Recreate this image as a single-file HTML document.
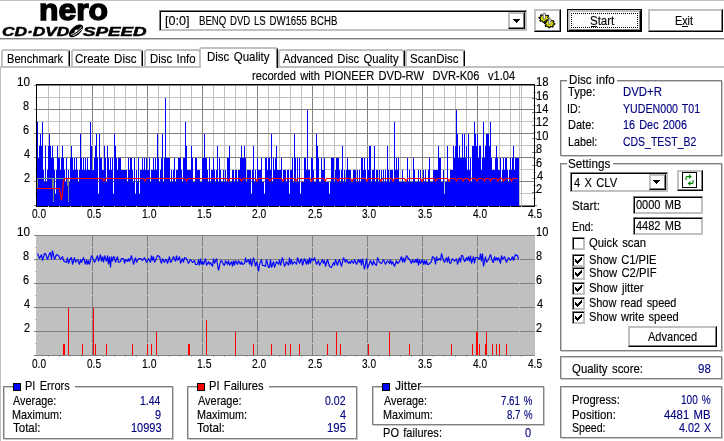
<!DOCTYPE html>
<html lang="en">
<head>
<meta charset="utf-8">
<title>Nero CD-DVD Speed</title>
<style>
html,body{margin:0;padding:0;background:#fff}
body{width:724px;height:441px;position:relative;overflow:hidden;font-family:"Liberation Sans",sans-serif;font-size:13px;line-height:13px;color:#000}
body>div,body>span,body>svg{position:absolute}
.abs{position:absolute}
.t{z-index:5;-webkit-text-stroke:.15px currentColor;word-spacing:1.4px;white-space:pre;transform-origin:0 0;display:block;line-height:13px;font-size:13px}
.btn{box-sizing:border-box;background:#fff;border:1px solid;border-color:#c0c0c0 #000 #000 #c0c0c0;box-shadow:inset -1px -1px 0 #808080,inset 1px 1px 0 #c0c0c0}
.sunk{box-sizing:border-box;background:#fff;border:1px solid;border-color:#808080 #c0c0c0 #c0c0c0 #808080;box-shadow:inset 1px 1px 0 #000,inset -1px -1px 0 #c0c0c0}
.grp{box-sizing:border-box;border:1px solid #808080;box-shadow:1px 1px 0 #c8c8c8,inset 1px 1px 0 #c8c8c8}
.chk{box-sizing:border-box;width:13px;height:13px;background:#fff;border:1px solid;border-color:#808080 #c0c0c0 #c0c0c0 #808080;box-shadow:inset 1px 1px 0 #000,inset -1px -1px 0 #c0c0c0}
.focus{box-sizing:content-box;border:1px dotted #000}
.tab{box-sizing:border-box;background:#fff;border-style:solid;border-width:2px 1px 0 2px;border-color:#c0c0c0 #000 transparent #c0c0c0;border-radius:3px 3px 0 0;box-shadow:inset -1px 0 0 #808080}
.tab.sel{z-index:2}
.nero{left:39.4px;top:-7.6px;font:bold 28.6px/36px "Liberation Sans",sans-serif;letter-spacing:0;-webkit-text-stroke:1.35px #000;transform:scaleX(1.115);transform-origin:0 0}
.cds{left:2px;top:24.5px;font:italic bold 12.5px/14px "Liberation Sans",sans-serif;white-space:pre;-webkit-text-stroke:.5px #000}
.cds span{display:inline-block;transform-origin:0 0;position:absolute;top:0}
.cds .c1{left:-.5px;transform:scaleX(1.385)}
.cds .c2{left:81.3px;transform:scaleX(1.5)}
</style>
</head>
<body>
<div style="left:0px;top:0px;width:724px;height:1px;background:#c0c0c0;"></div>
<div style="left:0px;top:38px;width:724px;height:1px;background:#808080;"></div>
<div style="left:0px;top:39px;width:724px;height:1px;background:#c8c8c8;"></div>
<div class="nero">nero</div>
<div class="cds"><span class="c1">CD·DVD</span><span class="c2">SPEED</span></div>
<svg class="abs" style="left:67px;top:23px" width="18" height="16" viewBox="0 0 18 16"><ellipse cx="9" cy="7.8" rx="4.4" ry="8.4" transform="rotate(50 9 7.8)" fill="#000"/><path d="M4 11.6C7 10.6 11.5 7.2 14.6 4.2M5.6 12.8C9 11.2 12.6 8.6 15.4 5.8" stroke="#fff" stroke-width=".9" fill="none"/><ellipse cx="9" cy="7.8" rx="1.1" ry="1.6" transform="rotate(50 9 7.8)" fill="#fff"/></svg>
<div class="sunk" style="left:159px;top:10px;width:368px;height:21px"></div>
<div class="btn" style="left:508px;top:12px;width:17px;height:17px"></div>
<svg class="abs" style="left:513px;top:19px" width="7" height="4" viewBox="0 0 7 4" shape-rendering="crispEdges"><path d="M0 0h7L3.5 4z" fill="#000"/></svg>
<span class="t" style="left:165.11px;top:14px;transform:scaleX(0.9700);color:#000">[0:0]</span>
<span class="t" style="left:198.62px;top:14px;transform:scaleX(0.7400);color:#000">BENQ DVD LS DW1655 BCHB</span>
<div class="btn" style="left:534px;top:9px;width:27px;height:23px"></div>
<svg class="abs" style="left:536px;top:9.5px" width="22" height="21" viewBox="536 9 22 21"><path d="M549.4 17.3L549.3 18.2L547.7 18.5L547.3 19.0L547.9 20.3L547.0 20.8L545.6 20.1L544.8 20.3L544.2 21.5L543.1 21.4L542.8 20.1L542.0 19.8L540.5 20.3L539.8 19.6L540.7 18.5L540.5 17.8L539.0 17.3L539.1 16.4L540.7 16.1L541.1 15.6L540.5 14.3L541.4 13.8L542.8 14.5L543.6 14.3L544.2 13.1L545.3 13.2L545.6 14.5L546.4 14.8L547.9 14.3L548.6 15.0L547.7 16.1L547.9 16.8z" fill="#ffff00" stroke="#000" stroke-width="1.1" stroke-linejoin="round"/><ellipse cx="544.2" cy="17.6" rx="2.2" ry="1.5" fill="#c8c800"/><path d="M542.9000000000001 17.900000000000002V12.700000000000001L544.0 11.5L545.4000000000001 12.700000000000001V17.900000000000002z" fill="#b0b0b0" stroke="#505050" stroke-width=".5"/><path d="M544.5 13.100000000000001V17.6" stroke="#fff" stroke-width=".8"/><path d="M554.8 22.6L554.7 23.5L553.1 23.8L552.7 24.3L553.3 25.6L552.4 26.1L551.0 25.4L550.2 25.6L549.6 26.8L548.5 26.7L548.2 25.4L547.4 25.1L545.9 25.6L545.2 24.9L546.1 23.8L545.9 23.1L544.4 22.6L544.5 21.7L546.1 21.4L546.5 20.9L545.9 19.6L546.8 19.1L548.2 19.8L549.0 19.6L549.6 18.4L550.7 18.5L551.0 19.8L551.8 20.1L553.3 19.6L554.0 20.3L553.1 21.4L553.3 22.1z" fill="#ffff00" stroke="#000" stroke-width="1.1" stroke-linejoin="round"/><ellipse cx="549.6" cy="22.900000000000002" rx="2.2" ry="1.5" fill="#c8c800"/><path d="M548.3000000000001 23.200000000000003V18.0L549.4 16.8L550.8000000000001 18.0V23.200000000000003z" fill="#b0b0b0" stroke="#505050" stroke-width=".5"/><path d="M549.9 18.400000000000002V22.900000000000002" stroke="#fff" stroke-width=".8"/></svg>
<div style="left:567px;top:9px;width:75px;height:23px;background:#000;"></div>
<div class="btn" style="left:568px;top:10px;width:73px;height:21px"></div>
<div class="focus" style="left:571px;top:13px;width:65px;height:13px"></div>
<span class="t" style="left:590.11px;top:14px;transform:scaleX(0.8841);color:#000">Start</span>
<div style="left:591px;top:26px;width:6px;height:1px;background:#000;"></div>
<div class="btn" style="left:648px;top:9px;width:75px;height:23px"></div>
<span class="t" style="left:675.12px;top:14px;transform:scaleX(0.8321);color:#000">Exit</span>
<div style="left:682px;top:26px;width:6px;height:1px;background:#000;"></div>
<div style="left:0px;top:66px;width:724px;height:2px;background:#c0c0c0;"></div>
<div style="left:0px;top:66px;width:1px;height:375px;background:#c0c0c0;"></div>
<div class="tab" style="left:1px;top:49px;width:69px;height:17px"></div>
<span class="t" style="left:6.61px;top:52px;transform:scaleX(0.8524);color:#000">Benchmark</span>
<div class="tab" style="left:71px;top:49px;width:72px;height:17px"></div>
<span class="t" style="left:74.63px;top:52px;transform:scaleX(0.8880);color:#000">Create Disc</span>
<div class="tab" style="left:144px;top:49px;width:57px;height:17px"></div>
<span class="t" style="left:149.62px;top:52px;transform:scaleX(0.8760);color:#000">Disc Info</span>
<div class="tab" style="left:278px;top:49px;width:127px;height:17px"></div>
<span class="t" style="left:283.10px;top:52px;transform:scaleX(0.8650);color:#000">Advanced Disc Quality</span>
<div class="tab" style="left:405px;top:49px;width:60px;height:17px"></div>
<span class="t" style="left:410.11px;top:52px;transform:scaleX(0.8838);color:#000">ScanDisc</span>
<div class="tab sel" style="left:199px;top:47px;width:79px;height:21px"></div>
<span class="t" style="left:206.88px;top:50px;transform:scaleX(0.8839);color:#000">Disc Quality</span>
<span class="t" style="left:252.13px;top:69px;transform:scaleX(0.8546);color:#000">recorded with PIONEER DVD-RW  DVR-K06  v1.04</span>
<svg class="abs" style="left:0px;top:68px" width="560" height="305" viewBox="0 68 560 305" font-family="Liberation Sans, sans-serif" font-size="13">
<g shape-rendering="crispEdges">
<path d="M48.5 85V206M59.5 85V206M70.5 85V206M81.5 85V206M103.5 85V206M114.5 85V206M125.5 85V206M136.5 85V206M158.5 85V206M169.5 85V206M180.5 85V206M191.5 85V206M213.5 85V206M224.5 85V206M235.5 85V206M246.5 85V206M268.5 85V206M279.5 85V206M290.5 85V206M301.5 85V206M323.5 85V206M334.5 85V206M345.5 85V206M356.5 85V206M378.5 85V206M389.5 85V206M400.5 85V206M411.5 85V206M433.5 85V206M444.5 85V206M455.5 85V206M466.5 85V206M488.5 85V206M499.5 85V206M510.5 85V206M521.5 85V206M519.5 85V206" stroke="#c0c0c0" fill="none"/>
<path d="M92.5 85V206M147.5 85V206M202.5 85V206M257.5 85V206M312.5 85V206M367.5 85V206M422.5 85V206M477.5 85V206" stroke="#808080" fill="none"/>
<path d="M35 193.5H534M35 169.5H534M35 145.5H534M35 121.5H534M35 97.5H534" stroke="#c0c0c0" fill="none"/>
<path d="M34 205.5H534M34 181.5H534M34 157.5H534M34 133.5H534M34 109.5H534M34 85.5H534" stroke="#808080" fill="none"/>
<path d="M37 122h1V206H37zM38 158h1V206H38zM39 146h1V206H39zM40 134h1V206H40zM41 146h1V206H41zM42 122h1V206H42zM43 170h1V206H43zM44 182h1V206H44zM45 146h1V206H45zM46 182h1V206H46zM47 170h1V206H47zM48 146h1V206H48zM49 134h1V206H49zM50 146h1V206H50zM51 158h1V206H51zM52 146h1V206H52zM53 158h1V206H53zM54 170h1V206H54zM55 194h1V206H55zM56 170h1V206H56zM57 146h1V206H57zM58 158h2V206H58zM60 170h1V206H60zM61 158h1V206H61zM62 146h1V206H62zM63 158h1V206H63zM64 170h1V206H64zM65 182h1V206H65zM66 158h1V206H66zM67 182h1V206H67zM68 170h1V206H68zM69 182h1V206H69zM70 158h1V206H70zM71 146h1V206H71zM72 158h1V206H72zM73 170h1V206H73zM74 158h1V206H74zM75 170h1V206H75zM76 158h1V206H76zM77 170h1V206H77zM78 182h1V206H78zM79 170h1V206H79zM80 134h1V206H80zM81 158h1V206H81zM82 170h1V206H82zM83 158h1V206H83zM84 170h1V206H84zM85 158h1V206H85zM86 170h1V206H86zM87 158h1V206H87zM88 170h2V206H88zM90 122h1V206H90zM91 146h1V206H91zM92 170h2V206H92zM94 158h1V206H94zM95 146h1V206H95zM96 134h1V206H96zM97 158h1V206H97zM98 194h1V206H98zM99 134h1V206H99zM100 158h2V206H100zM102 170h2V206H102zM104 146h1V206H104zM105 158h1V206H105zM106 182h1V206H106zM107 146h1V206H107zM108 158h1V206H108zM109 170h1V206H109zM110 158h1V206H110zM111 170h1V206H111zM112 158h1V206H112zM113 194h1V206H113zM114 134h1V206H114zM115 146h1V206H115zM116 158h1V206H116zM117 170h1V206H117zM118 158h3V206H118zM121 170h6V206H121zM127 182h1V206H127zM128 158h1V206H128zM129 170h1V206H129zM130 158h2V206H130zM132 170h1V206H132zM133 182h1V206H133zM134 158h1V206H134zM135 194h1V206H135zM136 170h1V206H136zM137 182h1V206H137zM138 158h1V206H138zM139 194h1V206H139zM140 170h2V206H140zM142 158h1V206H142zM143 170h1V206H143zM144 158h1V206H144zM145 170h1V206H145zM146 158h1V206H146zM147 170h2V206H147zM149 158h1V206H149zM150 182h1V206H150zM151 170h2V206H151zM153 158h1V206H153zM154 170h1V206H154zM155 158h1V206H155zM156 170h1V206H156zM157 134h1V206H157zM158 158h1V206H158zM159 182h1V206H159zM160 170h1V206H160zM161 158h1V206H161zM162 134h1V206H162zM163 182h1V206H163zM164 158h1V206H164zM165 98h1V206H165zM166 158h4V206H166zM170 182h1V206H170zM171 170h1V206H171zM172 182h1V206H172zM173 170h1V206H173zM174 158h1V206H174zM175 182h1V206H175zM176 170h2V206H176zM178 158h3V206H178zM181 170h1V206H181zM182 182h1V206H182zM183 158h2V206H183zM185 122h1V206H185zM186 146h1V206H186zM187 170h4V206H187zM191 146h1V206H191zM192 158h1V206H192zM193 182h2V206H193zM195 158h2V206H195zM197 170h3V206H197zM200 182h2V206H200zM202 158h2V206H202zM204 134h1V206H204zM205 158h2V206H205zM207 170h1V206H207zM208 182h1V206H208zM209 158h1V206H209zM210 182h1V206H210zM211 170h2V206H211zM213 158h1V206H213zM214 170h1V206H214zM215 182h1V206H215zM216 170h1V206H216zM217 146h1V206H217zM218 182h1V206H218zM219 158h1V206H219zM220 170h1V206H220zM221 182h2V206H221zM223 170h1V206H223zM224 182h1V206H224zM225 170h1V206H225zM226 182h1V206H226zM227 158h2V206H227zM229 146h1V206H229zM230 182h2V206H230zM232 170h2V206H232zM234 182h1V206H234zM235 170h2V206H235zM237 182h1V206H237zM238 170h2V206H238zM240 158h1V206H240zM241 146h1V206H241zM242 158h2V206H242zM244 146h1V206H244zM245 158h1V206H245zM246 182h1V206H246zM247 170h4V206H247zM251 194h1V206H251zM252 170h1V206H252zM253 146h1V206H253zM254 182h1V206H254zM255 170h1V206H255zM256 182h1V206H256zM257 158h1V206H257zM258 170h3V206H258zM261 158h1V206H261zM262 182h2V206H262zM264 194h1V206H264zM265 158h2V206H265zM267 170h1V206H267zM268 158h2V206H268zM270 170h1V206H270zM271 134h1V206H271zM272 182h1V206H272zM273 158h1V206H273zM274 170h1V206H274zM275 158h1V206H275zM276 146h1V206H276zM277 170h4V206H277zM281 158h1V206H281zM282 182h1V206H282zM283 170h3V206H283zM286 182h1V206H286zM287 170h2V206H287zM289 194h1V206H289zM290 170h2V206H290zM292 158h1V206H292zM293 182h1V206H293zM294 134h1V206H294zM295 158h1V206H295zM296 182h1V206H296zM297 158h1V206H297zM298 182h1V206H298zM299 158h1V206H299zM300 194h1V206H300zM301 182h3V206H301zM304 158h2V206H304zM306 170h1V206H306zM307 110h1V206H307zM308 170h2V206H308zM310 182h1V206H310zM311 158h2V206H311zM313 170h1V206H313zM314 182h2V206H314zM316 134h1V206H316zM317 146h1V206H317zM318 158h1V206H318zM319 182h2V206H319zM321 158h1V206H321zM322 170h2V206H322zM324 158h1V206H324zM325 182h4V206H325zM329 194h1V206H329zM330 182h1V206H330zM331 158h3V206H331zM334 182h1V206H334zM335 170h1V206H335zM336 158h3V206H336zM339 170h1V206H339zM340 182h1V206H340zM341 170h1V206H341zM342 146h1V206H342zM343 182h1V206H343zM344 170h1V206H344zM345 182h1V206H345zM346 170h1V206H346zM347 158h1V206H347zM348 170h3V206H348zM351 182h2V206H351zM353 170h3V206H353zM356 182h1V206H356zM357 170h1V206H357zM358 182h1V206H358zM359 170h1V206H359zM360 182h1V206H360zM361 158h2V206H361zM363 170h1V206H363zM364 158h1V206H364zM365 170h1V206H365zM366 182h1V206H366zM367 158h1V206H367zM368 170h1V206H368zM369 146h2V206H369zM371 182h1V206H371zM372 170h2V206H372zM374 146h1V206H374zM375 182h1V206H375zM376 170h2V206H376zM378 182h1V206H378zM379 170h1V206H379zM380 182h1V206H380zM381 170h1V206H381zM382 182h1V206H382zM383 170h1V206H383zM384 182h1V206H384zM385 170h1V206H385zM386 182h1V206H386zM387 146h1V206H387zM388 170h1V206H388zM389 182h1V206H389zM390 170h3V206H390zM393 182h1V206H393zM394 122h1V206H394zM395 170h1V206H395zM396 158h1V206H396zM397 170h1V206H397zM398 158h1V206H398zM399 182h3V206H399zM402 170h1V206H402zM403 182h4V206H403zM407 158h1V206H407zM408 182h1V206H408zM409 170h1V206H409zM410 182h3V206H410zM413 158h1V206H413zM414 170h1V206H414zM415 182h3V206H415zM418 170h1V206H418zM419 182h1V206H419zM420 170h1V206H420zM421 182h2V206H421zM423 170h1V206H423zM424 182h1V206H424zM425 170h1V206H425zM426 182h2V206H426zM428 170h1V206H428zM429 158h1V206H429zM430 182h3V206H430zM433 170h5V206H433zM438 146h1V206H438zM439 158h2V206H439zM441 182h2V206H441zM443 170h1V206H443zM444 194h1V206H444zM445 182h2V206H445zM447 146h1V206H447zM448 182h2V206H448zM450 170h3V206H450zM453 146h1V206H453zM454 158h1V206H454zM455 146h1V206H455zM456 110h1V206H456zM457 134h1V206H457zM458 158h1V206H458zM459 146h1V206H459zM460 158h2V206H460zM462 134h1V206H462zM463 158h1V206H463zM464 134h1V206H464zM465 158h1V206H465zM466 146h1V206H466zM467 170h1V206H467zM468 134h1V206H468zM469 170h1V206H469zM470 158h1V206H470zM471 182h1V206H471zM472 146h2V206H472zM474 122h1V206H474zM475 134h1V206H475zM476 146h1V206H476zM477 134h1V206H477zM478 158h1V206H478zM479 146h2V206H479zM481 170h1V206H481zM482 158h1V206H482zM483 122h1V206H483zM484 158h1V206H484zM485 146h1V206H485zM486 134h3V206H486zM489 146h1V206H489zM490 122h1V206H490zM491 158h1V206H491zM492 170h3V206H492zM495 158h1V206H495zM496 146h1V206H496zM497 158h1V206H497zM498 170h2V206H498zM500 158h1V206H500zM501 182h1V206H501zM502 170h1V206H502zM503 158h1V206H503zM504 170h1V206H504zM505 158h2V206H505zM507 170h1V206H507zM508 182h1V206H508zM509 170h1V206H509zM510 158h1V206H510zM511 170h1V206H511zM512 158h1V206H512zM513 146h1V206H513zM514 170h1V206H514zM515 158h4V206H515z" fill="#0000ff"/>
</g>
<path d="M37.5 188V178.5H53.5V202V178.5H64M68.5 179V202M52.5 179V188M67.5 179V186" stroke="#808080" fill="none" shape-rendering="crispEdges"/>
<path d="M36.5 188.5H59.5L61.5 200.5L62.5 192L63.5 181L65 178.5H102.5L104 181L105.5 178.5H143.5L145 181L146.5 178.5H185.0L186.5 181L188.0 178.5H227.0L228.5 181L230.0 178.5H240.0L241.5 181L243.0 178.5H255.5L257 181L258.5 178.5H268.5L270 181L271.5 178.5H281.5L283 181L284.5 178.5H294.5L296 181L297.5 178.5H310.0L311.5 181L313.0 178.5H323.5L325 181L326.5 178.5H336.5L338 181L339.5 178.5H350.5L352 181L353.5 178.5H365.5L367 181L368.5 178.5H379.5L381 181L382.5 178.5H391.5L393 181L394.5 178.5H404.5L406 181L407.5 178.5H420.5L422 181L423.5 178.5H434.0L435.5 181L437.0 178.5H447.5L449 181L450.5 178.5H455.0L456.5 181L458.0 178.5H461.5L463 181L464.5 178.5H468.0L469.5 181L471.0 178.5H475.5L477 181L478.5 178.5H483.0L484.5 181L486.0 178.5H489.0L490.5 181L492.0 178.5H496.5L498 181L499.5 178.5H502.0L503.5 181L505.0 178.5H510.0L511.5 181L513.0 178.5H517" stroke="#ff0000" stroke-width="1.2" fill="none"/>
<g shape-rendering="crispEdges">
<path d="M36.5 84V207M36 84.5H535M534.5 84V207M36 206.5H535" stroke="#000" fill="none"/>
<path d="M48.5 206V207M59.5 206V207M70.5 206V207M81.5 206V207M103.5 206V207M114.5 206V207M125.5 206V207M136.5 206V207M158.5 206V207M169.5 206V207M180.5 206V207M191.5 206V207M213.5 206V207M224.5 206V207M235.5 206V207M246.5 206V207M268.5 206V207M279.5 206V207M290.5 206V207M301.5 206V207M323.5 206V207M334.5 206V207M345.5 206V207M356.5 206V207M378.5 206V207M389.5 206V207M400.5 206V207M411.5 206V207M433.5 206V207M444.5 206V207M455.5 206V207M466.5 206V207M488.5 206V207M499.5 206V207M510.5 206V207M521.5 206V207M92.5 206V207M147.5 206V207M202.5 206V207M257.5 206V207M312.5 206V207M367.5 206V207M422.5 206V207M477.5 206V207" stroke="#d0d0d0" fill="none"/>
<path d="M532 205.5H534M535 205.5H537M532 192.5H534M535 192.5H537M532 178.5H534M535 178.5H537M532 165.5H534M535 165.5H537M532 152.5H534M535 152.5H537M532 138.5H534M535 138.5H537M532 125.5H534M535 125.5H537M532 112.5H534M535 112.5H537M532 98.5H534M535 98.5H537M532 85.5H534M535 85.5H537" stroke="#808080" fill="none"/>
<path d="M533 198.5H534M535 198.5H536M533 185.5H534M535 185.5H536M533 172.5H534M535 172.5H536M533 158.5H534M535 158.5H536M533 145.5H534M535 145.5H536M533 132.5H534M535 132.5H536M533 118.5H534M535 118.5H536M533 105.5H534M535 105.5H536M533 92.5H534M535 92.5H536" stroke="#a8a8a8" fill="none"/>
<rect x="36" y="235" width="499" height="120" fill="#c0c0c0"/>
<path d="M92.5 235V355M147.5 235V355M202.5 235V355M257.5 235V355M312.5 235V355M367.5 235V355M422.5 235V355M477.5 235V355" stroke="#808080" fill="none"/>
<path d="M36 343.5H535M36 319.5H535M36 295.5H535M36 271.5H535M36 247.5H535" stroke="#c0c0c0" fill="none"/>
<path d="M34 355.5H535M34 331.5H535M34 307.5H535M34 283.5H535M34 259.5H535M34 235.5H535" stroke="#808080" fill="none"/>
<path d="M35 343.5H36M35 319.5H36M35 295.5H36M35 271.5H36M35 247.5H36M48.5 356V357M59.5 356V357M70.5 356V357M81.5 356V357M103.5 356V357M114.5 356V357M125.5 356V357M136.5 356V357M158.5 356V357M169.5 356V357M180.5 356V357M191.5 356V357M213.5 356V357M224.5 356V357M235.5 356V357M246.5 356V357M268.5 356V357M279.5 356V357M290.5 356V357M301.5 356V357M323.5 356V357M334.5 356V357M345.5 356V357M356.5 356V357M378.5 356V357M389.5 356V357M400.5 356V357M411.5 356V357M433.5 356V357M444.5 356V357M455.5 356V357M466.5 356V357M488.5 356V357M499.5 356V357M510.5 356V357M521.5 356V357" stroke="#b0b0b0" fill="none"/>
<path d="M519.5 236V355" stroke="#c0c0c0" fill="none"/>
<path d="M63 344h1V355h-1zM64 344h1V355h-1zM68 308h1V355h-1zM82 344h1V355h-1zM93 308h1V355h-1zM95 344h1V355h-1zM106 344h1V355h-1zM132 344h1V355h-1zM147 344h1V355h-1zM151 344h1V355h-1zM156 332h1V355h-1zM188 344h1V355h-1zM189 344h1V355h-1zM206 320h1V355h-1zM235 332h1V355h-1zM253 344h1V355h-1zM271 344h1V355h-1zM285 344h1V355h-1zM290 344h1V355h-1zM299 344h1V355h-1zM327 344h1V355h-1zM336 332h1V355h-1zM340 344h1V355h-1zM368 344h1V355h-1zM389 332h1V355h-1zM409 344h1V355h-1zM451 344h1V355h-1zM472 344h1V355h-1zM476 332h1V355h-1zM477 332h1V355h-1zM479 344h1V355h-1zM485 344h1V355h-1zM486 332h1V355h-1zM492 344h1V355h-1zM496 344h1V355h-1zM499 344h1V355h-1zM506 344h1V355h-1z" fill="#ff0000"/>
</g>
<path d="M37.5 253.5L39.5 258.5L41.5 254.5L42.5 260.5L44.5 253.5L45.5 253.5L47.5 259.5L49.5 253.5L50.5 252.5L51.5 259.5L52.5 250.5L54.5 259.5L56.5 254.5L58.5 255.5L60.5 259.5L62.5 256.5L63.5 260.5L64.5 261.5L66.5 262.5L67.5 257.5L68.5 263.5L70.5 258.5L71.5 257.5L72.5 264.5L74.5 257.5L75.5 262.5L77.5 259.5L79.5 264.5L80.5 259.5L81.5 262.5L83.5 257.5L85.5 264.5L86.5 259.5L87.5 264.5L88.5 260.5L89.5 264.5L91.5 255.5L93.5 259.5L94.5 262.5L95.5 260.5L97.5 255.5L98.5 261.5L100.5 254.5L101.5 261.5L102.5 256.5L103.5 262.5L104.5 255.5L106.5 261.5L107.5 255.5L108.5 264.5L109.5 256.5L110.5 267.5L111.5 256.5L112.5 261.5L113.5 256.5L114.5 257.5L115.5 262.5L117.5 256.5L118.5 262.5L120.5 261.5L121.5 258.5L123.5 258.5L124.5 263.5L125.5 259.5L127.5 261.5L128.5 258.5L129.5 261.5L131.5 255.5L133.5 264.5L135.5 257.5L136.5 262.5L138.5 258.5L140.5 258.5L142.5 260.5L144.5 257.5L146.5 262.5L148.5 258.5L150.5 262.5L151.5 255.5L152.5 260.5L153.5 256.5L154.5 262.5L155.5 260.5L157.5 255.5L159.5 256.5L160.5 260.5L161.5 263.5L162.5 258.5L164.5 262.5L165.5 259.5L166.5 259.5L167.5 263.5L169.5 256.5L170.5 262.5L171.5 261.5L173.5 256.5L175.5 261.5L176.5 255.5L177.5 260.5L179.5 256.5L180.5 263.5L182.5 258.5L183.5 262.5L184.5 257.5L186.5 258.5L188.5 263.5L190.5 259.5L192.5 262.5L194.5 260.5L195.5 264.5L197.5 264.5L198.5 259.5L199.5 265.5L200.5 258.5L201.5 264.5L202.5 261.5L203.5 264.5L205.5 258.5L206.5 265.5L208.5 261.5L209.5 264.5L210.5 262.5L212.5 266.5L213.5 258.5L214.5 263.5L216.5 258.5L217.5 264.5L218.5 270.5L220.5 261.5L221.5 260.5L223.5 264.5L224.5 265.5L225.5 260.5L227.5 264.5L228.5 260.5L229.5 265.5L231.5 261.5L232.5 266.5L233.5 260.5L234.5 265.5L235.5 260.5L237.5 264.5L238.5 260.5L240.5 264.5L241.5 261.5L242.5 264.5L244.5 263.5L245.5 257.5L246.5 262.5L248.5 259.5L249.5 264.5L250.5 258.5L251.5 266.5L253.5 257.5L255.5 266.5L256.5 261.5L257.5 265.5L258.5 271.5L259.5 264.5L261.5 259.5L262.5 265.5L264.5 265.5L265.5 266.5L266.5 259.5L268.5 267.5L269.5 267.5L270.5 259.5L271.5 267.5L273.5 261.5L274.5 267.5L276.5 261.5L278.5 264.5L279.5 259.5L280.5 265.5L282.5 257.5L284.5 266.5L286.5 261.5L288.5 265.5L289.5 257.5L290.5 264.5L291.5 259.5L292.5 264.5L294.5 261.5L296.5 264.5L297.5 257.5L299.5 263.5L301.5 258.5L302.5 265.5L304.5 258.5L306.5 264.5L307.5 259.5L308.5 264.5L309.5 257.5L310.5 263.5L311.5 258.5L312.5 259.5L313.5 260.5L314.5 257.5L316.5 264.5L318.5 260.5L319.5 265.5L320.5 263.5L322.5 259.5L323.5 263.5L324.5 260.5L325.5 266.5L327.5 259.5L329.5 266.5L331.5 267.5L333.5 262.5L334.5 265.5L335.5 259.5L337.5 265.5L338.5 261.5L339.5 259.5L341.5 266.5L343.5 257.5L345.5 262.5L346.5 259.5L348.5 263.5L349.5 261.5L350.5 263.5L351.5 260.5L353.5 263.5L354.5 259.5L356.5 264.5L358.5 259.5L359.5 262.5L360.5 259.5L361.5 265.5L362.5 258.5L364.5 269.5L366.5 258.5L367.5 268.5L368.5 265.5L369.5 263.5L370.5 260.5L372.5 265.5L373.5 260.5L374.5 263.5L376.5 265.5L377.5 257.5L379.5 262.5L381.5 263.5L383.5 259.5L385.5 264.5L387.5 260.5L389.5 263.5L390.5 259.5L391.5 264.5L392.5 261.5L394.5 266.5L396.5 260.5L397.5 263.5L399.5 261.5L401.5 256.5L402.5 262.5L403.5 257.5L404.5 262.5L406.5 255.5L407.5 257.5L409.5 259.5L411.5 263.5L412.5 259.5L413.5 261.5L414.5 262.5L415.5 259.5L416.5 262.5L417.5 258.5L418.5 265.5L419.5 259.5L420.5 263.5L422.5 259.5L423.5 264.5L424.5 260.5L425.5 264.5L426.5 260.5L427.5 264.5L428.5 264.5L430.5 262.5L431.5 261.5L432.5 256.5L434.5 258.5L435.5 264.5L436.5 256.5L437.5 260.5L439.5 258.5L440.5 260.5L441.5 253.5L443.5 260.5L444.5 262.5L446.5 257.5L447.5 262.5L448.5 256.5L449.5 262.5L450.5 263.5L452.5 258.5L454.5 261.5L456.5 258.5L457.5 264.5L459.5 257.5L460.5 262.5L461.5 255.5L462.5 255.5L464.5 261.5L465.5 260.5L466.5 257.5L467.5 260.5L468.5 256.5L469.5 261.5L470.5 255.5L471.5 263.5L473.5 256.5L474.5 263.5L475.5 257.5L477.5 257.5L479.5 259.5L480.5 253.5L481.5 261.5L482.5 253.5L483.5 266.5L485.5 256.5L486.5 262.5L488.5 259.5L490.5 254.5L492.5 261.5L493.5 262.5L494.5 256.5L495.5 260.5L496.5 257.5L497.5 260.5L498.5 257.5L500.5 263.5L501.5 255.5L502.5 259.5L504.5 256.5L506.5 262.5L508.5 257.5L510.5 260.5L512.5 256.5L513.5 260.5L515.5 254.5L516.5 255.5L517.5 255.5L518.5 259.5" stroke="#0000ff" stroke-width="1.15" fill="none" stroke-linejoin="bevel"/>
<!--LABELS-->
</svg>
<span class="t" style="left:17.11px;top:75px;transform:scaleX(0.9017);color:#000">10</span>
<span class="t" style="left:17.11px;top:225px;transform:scaleX(0.9017);color:#000">10</span>
<span class="t" style="left:536.12px;top:225px;transform:scaleX(0.8483);color:#000">10</span>
<span class="t" style="left:23.32px;top:99px;transform:scaleX(0.8400);color:#000">8</span>
<span class="t" style="left:23.32px;top:249px;transform:scaleX(0.8400);color:#000">8</span>
<span class="t" style="left:536.14px;top:249px;transform:scaleX(0.8400);color:#000">8</span>
<span class="t" style="left:23.32px;top:123px;transform:scaleX(0.8400);color:#000">6</span>
<span class="t" style="left:23.32px;top:273px;transform:scaleX(0.8400);color:#000">6</span>
<span class="t" style="left:536.14px;top:273px;transform:scaleX(0.8400);color:#000">6</span>
<span class="t" style="left:24.10px;top:147px;transform:scaleX(0.8400);color:#000">4</span>
<span class="t" style="left:24.10px;top:297px;transform:scaleX(0.8400);color:#000">4</span>
<span class="t" style="left:537.12px;top:297px;transform:scaleX(0.8400);color:#000">4</span>
<span class="t" style="left:24.07px;top:171px;transform:scaleX(0.8400);color:#000">2</span>
<span class="t" style="left:24.07px;top:321px;transform:scaleX(0.8400);color:#000">2</span>
<span class="t" style="left:536.14px;top:321px;transform:scaleX(0.8400);color:#000">2</span>
<span class="t" style="left:536.10px;top:75px;transform:scaleX(0.8672);color:#000">18</span>
<span class="t" style="left:536.10px;top:89px;transform:scaleX(0.8672);color:#000">16</span>
<span class="t" style="left:536.11px;top:102px;transform:scaleX(0.8483);color:#000">14</span>
<span class="t" style="left:536.10px;top:115px;transform:scaleX(0.8672);color:#000">12</span>
<span class="t" style="left:536.12px;top:129px;transform:scaleX(0.8483);color:#000">10</span>
<span class="t" style="left:536.14px;top:142px;transform:scaleX(0.8400);color:#000">8</span>
<span class="t" style="left:536.14px;top:156px;transform:scaleX(0.8400);color:#000">6</span>
<span class="t" style="left:537.12px;top:169px;transform:scaleX(0.8400);color:#000">4</span>
<span class="t" style="left:536.14px;top:182px;transform:scaleX(0.8400);color:#000">2</span>
<span class="t" style="left:32.10px;top:207px;transform:scaleX(0.7756);color:#000">0.0</span>
<span class="t" style="left:32.10px;top:357px;transform:scaleX(0.7756);color:#000">0.0</span>
<span class="t" style="left:86.59px;top:207px;transform:scaleX(0.7756);color:#000">0.5</span>
<span class="t" style="left:86.59px;top:357px;transform:scaleX(0.7756);color:#000">0.5</span>
<span class="t" style="left:142.12px;top:207px;transform:scaleX(0.8038);color:#000">1.0</span>
<span class="t" style="left:142.12px;top:357px;transform:scaleX(0.8038);color:#000">1.0</span>
<span class="t" style="left:196.62px;top:207px;transform:scaleX(0.8038);color:#000">1.5</span>
<span class="t" style="left:196.62px;top:357px;transform:scaleX(0.8038);color:#000">1.5</span>
<span class="t" style="left:252.13px;top:207px;transform:scaleX(0.7894);color:#000">2.0</span>
<span class="t" style="left:252.13px;top:357px;transform:scaleX(0.7894);color:#000">2.0</span>
<span class="t" style="left:307.62px;top:207px;transform:scaleX(0.7894);color:#000">2.5</span>
<span class="t" style="left:307.62px;top:357px;transform:scaleX(0.7894);color:#000">2.5</span>
<span class="t" style="left:362.12px;top:207px;transform:scaleX(0.7756);color:#000">3.0</span>
<span class="t" style="left:362.12px;top:357px;transform:scaleX(0.7756);color:#000">3.0</span>
<span class="t" style="left:417.61px;top:207px;transform:scaleX(0.7756);color:#000">3.5</span>
<span class="t" style="left:417.61px;top:357px;transform:scaleX(0.7756);color:#000">3.5</span>
<span class="t" style="left:473.11px;top:207px;transform:scaleX(0.7756);color:#000">4.0</span>
<span class="t" style="left:473.11px;top:357px;transform:scaleX(0.7756);color:#000">4.0</span>
<span class="t" style="left:527.60px;top:207px;transform:scaleX(0.7756);color:#000">4.5</span>
<span class="t" style="left:527.60px;top:357px;transform:scaleX(0.7756);color:#000">4.5</span>
<div class="grp" style="left:560px;top:80px;width:162px;height:76px"></div>
<div style="left:567px;top:80px;width:50px;height:2px;background:#fff;"></div>
<span class="t" style="left:568.88px;top:73px;transform:scaleX(0.8934);color:#000">Disc info</span>
<span class="t" style="left:568.10px;top:85px;transform:scaleX(0.8586);color:#000">Type:</span>
<span class="t" style="left:622.60px;top:85px;transform:scaleX(0.8788);color:#000080">DVD+R</span>
<span class="t" style="left:567.29px;top:102px;transform:scaleX(0.8193);color:#000">ID:</span>
<span class="t" style="left:622.60px;top:102px;transform:scaleX(0.8180);color:#000080">YUDEN000 T01</span>
<span class="t" style="left:568.08px;top:118px;transform:scaleX(0.8470);color:#000">Date:</span>
<span class="t" style="left:622.62px;top:118px;transform:scaleX(0.8355);color:#000080">16 Dec 2006</span>
<span class="t" style="left:568.09px;top:135px;transform:scaleX(0.8279);color:#000">Label:</span>
<span class="t" style="left:622.60px;top:135px;transform:scaleX(0.8051);color:#000080">CDS_TEST_B2</span>
<div class="grp" style="left:560px;top:163px;width:162px;height:188px"></div>
<div style="left:567px;top:163px;width:46px;height:2px;background:#fff;"></div>
<span class="t" style="left:567.61px;top:157px;transform:scaleX(0.9001);color:#000">Settings</span>
<div class="sunk" style="left:570px;top:172px;width:98px;height:20px"></div>
<div class="btn" style="left:649px;top:174px;width:17px;height:16px"></div>
<svg class="abs" style="left:653px;top:180px" width="7" height="4" viewBox="0 0 7 4" shape-rendering="crispEdges"><path d="M0 0h7L3.5 4z" fill="#000"/></svg>
<span class="t" style="left:574.11px;top:176px;transform:scaleX(0.8583);color:#000">4 X CLV</span>
<div class="btn" style="left:677px;top:170px;width:26px;height:21px"></div>
<svg class="abs" style="left:682px;top:172px" width="15" height="17" viewBox="0 0 15 17"><rect x=".5" y=".5" width="14" height="15" fill="#fff" stroke="#000"/><path d="M4 8.2V5.6Q4 4.6 5 4.6H7.5" stroke="#008000" stroke-width="1.1" fill="none"/><path d="M7 2.2L9.8 4.6 7 7z" fill="#008000"/><path d="M11 8v2.4Q11 11.4 10 11.4H8" stroke="#008000" stroke-width="1.1" fill="none"/><path d="M8.4 9L5.6 11.4 8.4 13.8z" fill="#008000"/></svg>
<span class="t" style="left:571.60px;top:199px;transform:scaleX(0.9030);color:#000">Start:</span>
<div class="sunk" style="left:633px;top:196px;width:70px;height:18px"></div>
<span class="t" style="left:635.61px;top:198px;transform:scaleX(0.8467);color:#000">0000 MB</span>
<span class="t" style="left:571.58px;top:220px;transform:scaleX(0.7972);color:#000">End:</span>
<div class="sunk" style="left:633px;top:217px;width:70px;height:18px"></div>
<span class="t" style="left:635.61px;top:219px;transform:scaleX(0.8467);color:#000">4482 MB</span>
<div class="chk" style="left:572px;top:237px"></div>
<span class="t" style="left:589.11px;top:236px;transform:scaleX(0.8677);color:#000">Quick scan</span>
<div class="chk" style="left:572px;top:254px"><svg width="7" height="7" viewBox="0 0 7 7" style="position:absolute;left:2px;top:2px" shape-rendering="crispEdges"><path d="M0 2h1v3H0zM1 3h1v3H1zM2 4h1v3H2zM3 3h1v3H3zM4 2h1v3H4zM5 1h1v3H5zM6 0h1v3H6z" fill="#000"/></svg></div>
<span class="t" style="left:589.11px;top:253px;transform:scaleX(0.8575);color:#000">Show C1/PIE</span>
<div class="chk" style="left:572px;top:267px"><svg width="7" height="7" viewBox="0 0 7 7" style="position:absolute;left:2px;top:2px" shape-rendering="crispEdges"><path d="M0 2h1v3H0zM1 3h1v3H1zM2 4h1v3H2zM3 3h1v3H3zM4 2h1v3H4zM5 1h1v3H5zM6 0h1v3H6z" fill="#000"/></svg></div>
<span class="t" style="left:589.11px;top:266px;transform:scaleX(0.8657);color:#000">Show C2/PIF</span>
<div class="chk" style="left:572px;top:282px"><svg width="7" height="7" viewBox="0 0 7 7" style="position:absolute;left:2px;top:2px" shape-rendering="crispEdges"><path d="M0 2h1v3H0zM1 3h1v3H1zM2 4h1v3H2zM3 3h1v3H3zM4 2h1v3H4zM5 1h1v3H5zM6 0h1v3H6z" fill="#000"/></svg></div>
<span class="t" style="left:589.11px;top:281px;transform:scaleX(0.8785);color:#000">Show jitter</span>
<div class="chk" style="left:572px;top:297px"><svg width="7" height="7" viewBox="0 0 7 7" style="position:absolute;left:2px;top:2px" shape-rendering="crispEdges"><path d="M0 2h1v3H0zM1 3h1v3H1zM2 4h1v3H2zM3 3h1v3H3zM4 2h1v3H4zM5 1h1v3H5zM6 0h1v3H6z" fill="#000"/></svg></div>
<span class="t" style="left:589.11px;top:296px;transform:scaleX(0.8409);color:#000">Show read speed</span>
<div class="chk" style="left:572px;top:311px"><svg width="7" height="7" viewBox="0 0 7 7" style="position:absolute;left:2px;top:2px" shape-rendering="crispEdges"><path d="M0 2h1v3H0zM1 3h1v3H1zM2 4h1v3H2zM3 3h1v3H3zM4 2h1v3H4zM5 1h1v3H5zM6 0h1v3H6z" fill="#000"/></svg></div>
<span class="t" style="left:589.11px;top:310px;transform:scaleX(0.8510);color:#000">Show write speed</span>
<div class="btn" style="left:628px;top:326px;width:89px;height:21px"></div>
<span class="t" style="left:648.10px;top:330px;transform:scaleX(0.8481);color:#000">Advanced</span>
<div class="grp" style="left:560px;top:356px;width:162px;height:23px"></div>
<span class="t" style="left:571.61px;top:362px;transform:scaleX(0.8781);color:#000">Quality score:</span>
<span class="t" style="left:698.11px;top:362px;transform:scaleX(0.8833);color:#000080">98</span>
<div class="grp" style="left:560px;top:386px;width:162px;height:52px"></div>
<span class="t" style="left:572.09px;top:393px;transform:scaleX(0.8594);color:#000">Progress:</span>
<span class="t" style="left:681.13px;top:393px;transform:scaleX(0.7744);color:#000080">100 %</span>
<span class="t" style="left:572.08px;top:408px;transform:scaleX(0.8786);color:#000">Position:</span>
<span class="t" style="left:664.11px;top:408px;transform:scaleX(0.8707);color:#000080">4481 MB</span>
<span class="t" style="left:572.09px;top:421px;transform:scaleX(0.8143);color:#000">Speed:</span>
<span class="t" style="left:678.63px;top:421px;transform:scaleX(0.8273);color:#000080">4.02 X</span>
<div class="grp" style="left:3px;top:386px;width:170px;height:53px"></div>
<div style="left:13px;top:386px;width:62px;height:2px;background:#fff;"></div>
<div style="left:13px;top:383px;width:8px;height:8px;background:#0000ff;border:1px solid #000;box-sizing:border-box"></div>
<span class="t" style="left:24.64px;top:379px;transform:scaleX(0.8490);color:#000">PI Errors</span>
<span class="t" style="left:13.10px;top:394px;transform:scaleX(0.8358);color:#000">Average:</span>
<span class="t" style="left:140.11px;top:394px;transform:scaleX(0.8014);color:#000080">1.44</span>
<span class="t" style="left:12.09px;top:408px;transform:scaleX(0.8351);color:#000">Maximum:</span>
<span class="t" style="left:155.03px;top:408px;transform:scaleX(0.8400);color:#000080">9</span>
<span class="t" style="left:13.10px;top:421px;transform:scaleX(0.8863);color:#000">Total:</span>
<span class="t" style="left:130.60px;top:421px;transform:scaleX(0.8448);color:#000080">10993</span>
<div class="grp" style="left:187px;top:386px;width:170px;height:53px"></div>
<div style="left:197px;top:386px;width:72px;height:2px;background:#fff;"></div>
<div style="left:197px;top:383px;width:8px;height:8px;background:#ff0000;border:1px solid #000;box-sizing:border-box"></div>
<span class="t" style="left:208.63px;top:379px;transform:scaleX(0.8578);color:#000">PI Failures</span>
<span class="t" style="left:197.60px;top:394px;transform:scaleX(0.8407);color:#000">Average:</span>
<span class="t" style="left:325.12px;top:394px;transform:scaleX(0.8112);color:#000080">0.02</span>
<span class="t" style="left:196.60px;top:408px;transform:scaleX(0.8350);color:#000">Maximum:</span>
<span class="t" style="left:339.79px;top:408px;transform:scaleX(0.8400);color:#000080">4</span>
<span class="t" style="left:196.60px;top:421px;transform:scaleX(0.8944);color:#000">Total:</span>
<span class="t" style="left:327.11px;top:421px;transform:scaleX(0.8777);color:#000080">195</span>
<div class="grp" style="left:372px;top:386px;width:172px;height:39px"></div>
<div style="left:382px;top:386px;width:38px;height:2px;background:#fff;"></div>
<div style="left:382px;top:383px;width:8px;height:8px;background:#0000ff;border:1px solid #000;box-sizing:border-box"></div>
<span class="t" style="left:394.62px;top:379px;transform:scaleX(0.9330);color:#000">Jitter</span>
<span class="t" style="left:384.10px;top:394px;transform:scaleX(0.8309);color:#000">Average:</span>
<span class="t" style="left:501.14px;top:394px;transform:scaleX(0.7489);color:#000080">7.61 %</span>
<span class="t" style="left:383.09px;top:408px;transform:scaleX(0.8308);color:#000">Maximum:</span>
<span class="t" style="left:507.36px;top:408px;transform:scaleX(0.7400);color:#000080">8.7 %</span>
<span class="t" style="left:383.11px;top:426px;transform:scaleX(0.8509);color:#000">PO failures:</span>
<span class="t" style="left:524.80px;top:426px;transform:scaleX(0.8400);color:#000080">0</span>
</body>
</html>
